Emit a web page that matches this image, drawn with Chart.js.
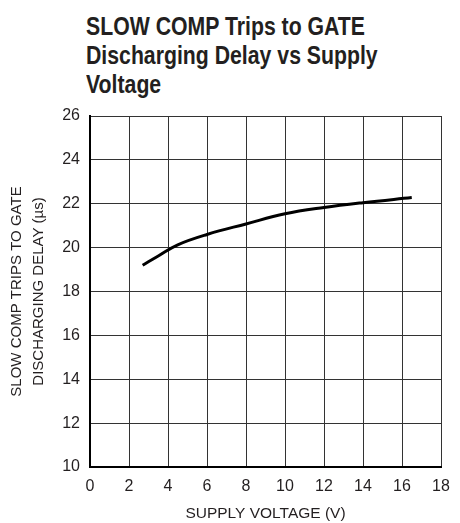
<!DOCTYPE html>
<html>
<head>
<meta charset="utf-8">
<script src="https://cdn.jsdelivr.net/npm/chart.js@4.4.1/dist/chart.umd.min.js"></script>
<style>
  html, body { margin: 0; padding: 0; background: #fff; }
  #wrap { position: relative; width: 460px; height: 523px; }
  #title {
    position: absolute; left: 86px; top: 12px;
    font-family: "Liberation Sans", Arial, sans-serif;
    font-weight: bold; font-size: 25px; line-height: 29px; color: #231f20;
    white-space: nowrap;
    transform: scaleX(0.85); transform-origin: left top;
  }
  canvas { position: absolute; left: 0; top: 0; }
</style>
</head>
<body>
<div id="wrap">
  <div id="title">SLOW COMP Trips to GATE<br>Discharging Delay vs Supply<br>Voltage</div>
  <canvas id="chart" width="460" height="523"></canvas>
</div>
<script>
// supply voltage (V) and delay (µs)
const supplyVoltage = [2.7, 3.5, 4.5, 6, 8, 10, 12, 14, 16.5];
const dischargeDelay = [19.2, 19.62, 20.13, 20.6, 21.08, 21.54, 21.83, 22.05, 22.28];

const xTicks = [0, 2, 4, 6, 8, 10, 12, 14, 16, 18];
const yTicks = [10, 12, 14, 16, 18, 20, 22, 24, 26];

const fontFamily = '"Liberation Sans", Arial, sans-serif';
const ink = "#231f20";

const points = supplyVoltage.map((v, i) => ({ x: v, y: dischargeDelay[i] }));

new Chart(document.getElementById("chart"), {
  type: "line",
  data: {
    datasets: [
      {
        data: points,
        borderColor: "#000",
        borderWidth: 3,
        pointRadius: 0,
        tension: 0.4,
        fill: false,
      },
    ],
  },
  options: {
    responsive: false,
    animation: false,
    layout: { padding: { top: 116, right: 19, left: 0, bottom: 0 } },
    plugins: {
      legend: { display: false },
      tooltip: { enabled: false },
    },
    scales: {
      x: {
        type: "linear",
        min: 0,
        max: 18,
        afterBuildTicks: (axis) => {
          axis.ticks = xTicks.map((v) => ({ value: v }));
        },
        afterFit: (axis) => {
          axis.height = 56;
        },
        grid: { color: "#333", lineWidth: 1, drawTicks: false },
        border: { color: "#000", width: 2 },
        ticks: {
          color: ink,
          padding: 10,
          maxRotation: 0,
          font: { family: fontFamily, size: 16 },
        },
        title: {
          display: true,
          text: "SUPPLY VOLTAGE (V)",
          color: ink,
          padding: { top: 0, bottom: 0 },
          font: { family: fontFamily, size: 15.5 },
        },
      },
      y: {
        type: "linear",
        min: 10,
        max: 26,
        afterBuildTicks: (axis) => {
          axis.ticks = yTicks.map((v) => ({ value: v }));
        },
        afterFit: (axis) => {
          axis.width = 90;
        },
        grid: { color: "#333", lineWidth: 1, drawTicks: false },
        border: { color: "#000", width: 2 },
        ticks: {
          color: ink,
          padding: 10,
          font: { family: fontFamily, size: 16 },
        },
        title: {
          display: true,
          text: ["SLOW COMP TRIPS TO GATE", "DISCHARGING DELAY (µs)"],
          color: ink,
          padding: { top: 6 },
          font: { family: fontFamily, size: 15, lineHeight: 1.47 },
        },
      },
    },
  },
});
</script>
</body>
</html>
